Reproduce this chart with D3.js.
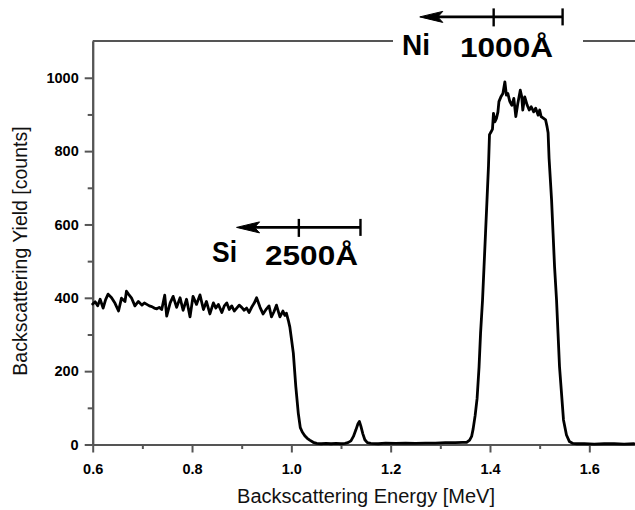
<!DOCTYPE html>
<html><head><meta charset="utf-8">
<script src="https://cdn.jsdelivr.net/npm/d3@7"></script>
<style>
body{margin:0;background:#fff}
svg{display:block}
text{font-family:"Liberation Sans",Arial,Helvetica,sans-serif}
</style>
</head><body>
<svg id="c" width="635" height="510"></svg>
<script>
// ---- data ----
const energy = [0.600,0.605,0.610,0.615,0.621,0.626,0.631,0.638,0.645,0.652,0.658,0.665,0.668,0.672,0.678,0.685,0.692,0.699,0.704,0.709,0.714,0.719,0.724,0.729,0.734,0.739,0.745,0.749,0.756,0.762,0.769,0.776,0.782,0.789,0.796,0.802,0.809,0.816,0.823,0.829,0.836,0.843,0.848,0.853,0.860,0.865,0.870,0.875,0.880,0.885,0.890,0.895,0.900,0.905,0.910,0.915,0.920,0.925,0.930,0.937,0.943,0.950,0.955,0.960,0.965,0.970,0.977,0.983,0.987,0.990,0.994,0.997,1.000,1.004,1.009,1.014,1.018,1.022,1.027,1.032,1.037,1.044,1.051,1.060,1.070,1.080,1.090,1.100,1.108,1.114,1.120,1.125,1.130,1.134,1.137,1.140,1.144,1.148,1.153,1.160,1.175,1.190,1.210,1.230,1.250,1.270,1.290,1.310,1.330,1.345,1.353,1.359,1.363,1.366,1.370,1.374,1.378,1.381,1.385,1.388,1.391,1.394,1.397,1.399,1.402,1.405,1.407,1.410,1.413,1.416,1.418,1.422,1.426,1.430,1.433,1.436,1.440,1.444,1.448,1.452,1.456,1.461,1.464,1.466,1.470,1.475,1.479,1.483,1.488,1.492,1.497,1.500,1.503,1.508,1.512,1.515,1.517,1.519,1.524,1.527,1.530,1.534,1.537,1.540,1.544,1.548,1.554,1.560,1.567,1.575,1.590,1.610,1.630,1.650,1.670,1.690];
const counts = [383,389,378,396,372,395,410,400,385,364,399,390,418,410,400,378,390,380,386,382,378,376,372,370,374,368,407,350,386,404,374,400,366,396,348,404,382,408,368,390,356,386,372,382,360,378,386,368,378,364,372,380,374,366,372,360,374,385,400,374,356,370,378,348,362,380,348,364,352,358,338,320,290,249,158,85,46,34,24,17,12,6,3,2,3,2,3,2,3,5,10,22,40,56,63,50,29,13,5,3,2,4,3,4,3,4,4,5,5,6,6,12,22,42,78,125,212,303,394,485,576,667,760,845,852,860,903,880,889,907,935,948,957,989,953,957,935,925,944,894,930,966,948,912,948,925,912,921,907,917,898,912,894,889,885,866,850,780,667,576,485,394,303,212,140,67,26,8,3,2,2,1,2,2,1,2];

const xMajor = [0.6,0.8,1.0,1.2,1.4,1.6];
const xMinor = [0.7,0.9,1.1,1.3,1.5];
const yMajor = [0,200,400,600,800,1000];
const yMinor = [100,300,500,700,900];

const xTitle = "Backscattering Energy  [MeV]";
const yTitle = "Backscattering Yield [counts]";

// annotations: element, layer thickness, arrow tip / mid / end energies, level
const niNote = {el:"Ni", thick:"1000Å", tip:1.2586, mid:1.4074, end:1.5462, level:1166};
const siNote = {el:"Si", thick:"2500Å", tip:0.8897, mid:1.0151, end:1.1392, level:592};

// ---- chart ----
const svg = d3.select("#c");
const W = 635, H = 510;
const x = d3.scaleLinear().domain([0.6, 1.692]).range([92.7, 635]);
const y = d3.scaleLinear().domain([0, 1100]).range([444.5, 41.1]);
const axisColor = "#555";
const fontFam = '"Liberation Sans",Arial,Helvetica,sans-serif';

// top frame
svg.append("line")
  .attr("x1", x(0.6)).attr("x2", W)
  .attr("y1", y(1100)).attr("y2", y(1100))
  .attr("stroke", axisColor).attr("stroke-width", 2);

function styleAxis(g){
  g.selectAll("path.domain").attr("stroke", axisColor).attr("stroke-width", 2);
  g.selectAll(".tick line").attr("stroke", axisColor).attr("stroke-width", 2);
  g.selectAll(".tick text").attr("fill", "#000").attr("font-weight", "bold")
    .attr("font-size", 14.5).attr("font-family", fontFam);
}

// x axis
const gxMinor = svg.append("g").attr("transform", `translate(0,${y(0)})`)
  .call(d3.axisBottom(x).tickValues(xMinor).tickSize(4.5).tickSizeOuter(0).tickFormat(""));
styleAxis(gxMinor);
const gx = svg.append("g").attr("transform", `translate(0,${y(0)})`)
  .call(d3.axisBottom(x).tickValues(xMajor).tickSize(8).tickSizeOuter(0).tickPadding(11).tickFormat(d3.format(".1f")));
styleAxis(gx);

// y axis
const gyMinor = svg.append("g").attr("transform", `translate(${x(0.6)},0)`)
  .call(d3.axisLeft(y).tickValues(yMinor).tickSize(5).tickSizeOuter(0).tickFormat(""));
styleAxis(gyMinor);
const gy = svg.append("g").attr("transform", `translate(${x(0.6)},0)`)
  .call(d3.axisLeft(y).tickValues(yMajor).tickSize(8).tickSizeOuter(0).tickPadding(6).tickFormat(d3.format("d")));
styleAxis(gy);

// titles
svg.append("text").attr("x", 366).attr("y", 503)
  .attr("text-anchor", "middle").attr("font-size", 20).attr("fill", "#111")
  .text(xTitle);
svg.append("text").attr("transform", "translate(27,251) rotate(-90)")
  .attr("text-anchor", "middle").attr("font-size", 19.5).attr("fill", "#111")
  .text(yTitle);

// spectrum
const pts = energy.map((e, i) => [e, counts[i]]);
svg.append("path").datum(pts)
  .attr("fill", "none").attr("stroke", "#000").attr("stroke-width", 2.8)
  .attr("stroke-linejoin", "round").attr("stroke-linecap", "round")
  .attr("d", d3.line().x(d => x(d[0])).y(d => y(d[1])));

// annotations
function depthArrow(n){
  const ya = y(n.level), xt = x(n.tip), xm = x(n.mid), xe = x(n.end);
  const g = svg.append("g");
  g.append("line").attr("x1", xt + 14).attr("x2", xe).attr("y1", ya).attr("y2", ya)
    .attr("stroke", "#000").attr("stroke-width", 2.6);
  const p = d3.path();
  p.moveTo(xt, ya); p.lineTo(xt + 23, ya - 5.5); p.lineTo(xt + 18, ya); p.lineTo(xt + 23, ya + 5.5); p.closePath();
  g.append("path").attr("d", p.toString()).attr("fill", "#000").attr("stroke", "#000").attr("stroke-width", 1).attr("stroke-linejoin", "round");
  g.append("line").attr("x1", xm).attr("x2", xm).attr("y1", ya - 8.5).attr("y2", ya + 9.5)
    .attr("stroke", "#000").attr("stroke-width", 2.4);
  g.append("line").attr("x1", xe).attr("x2", xe).attr("y1", ya - 8.5).attr("y2", ya + 8.5)
    .attr("stroke", "#000").attr("stroke-width", 2.4);
}

// Ni label box (interrupts top frame)
svg.append("rect").attr("x", 393).attr("y", 30).attr("width", 190).attr("height", 22).attr("fill", "#fff");
depthArrow(niNote);
svg.append("text").attr("x", 402).attr("y", 55).attr("font-size", 30).attr("font-weight", "bold")
  .attr("textLength", 28).attr("lengthAdjust", "spacingAndGlyphs").text(niNote.el);
svg.append("text").attr("x", 460).attr("y", 57).attr("font-size", 27).attr("font-weight", "bold")
  .attr("textLength", 93).attr("lengthAdjust", "spacingAndGlyphs").text(niNote.thick);

depthArrow(siNote);
svg.append("text").attr("x", 212).attr("y", 262).attr("font-size", 30).attr("font-weight", "bold")
  .attr("textLength", 25).attr("lengthAdjust", "spacingAndGlyphs").text(siNote.el);
svg.append("text").attr("x", 265).attr("y", 265).attr("font-size", 27).attr("font-weight", "bold")
  .attr("textLength", 93).attr("lengthAdjust", "spacingAndGlyphs").text(siNote.thick);
</script>
</body></html>
